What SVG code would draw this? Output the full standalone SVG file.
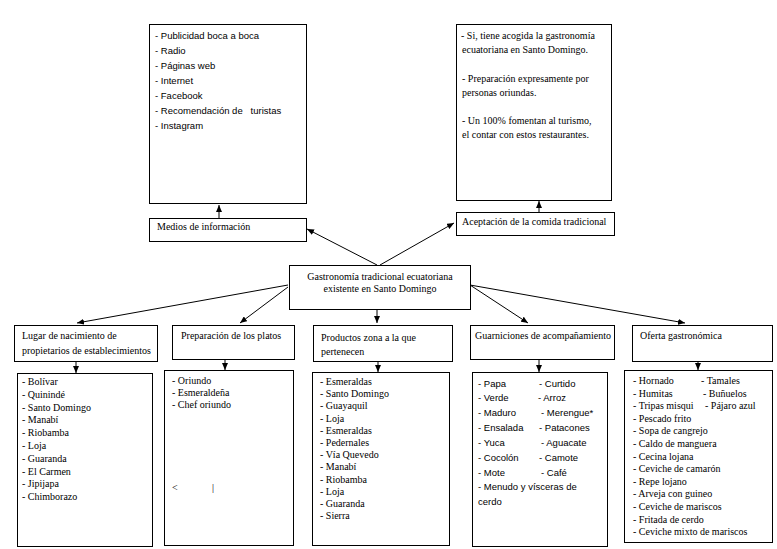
<svg xmlns="http://www.w3.org/2000/svg" width="777" height="549" viewBox="0 0 777 549">
<style>
.box{fill:#fff;stroke:#000;stroke-width:1}
.s{font-family:"Liberation Serif","Times New Roman",serif;font-size:10px;fill:#000}
.a{font-family:"Liberation Sans",Arial,sans-serif;font-size:9.5px;fill:#000}
.c{stroke:#000;stroke-width:1;fill:none;marker-end:url(#ah)}
</style>
<defs>
<marker id="ah" markerUnits="userSpaceOnUse" markerWidth="8" markerHeight="6" refX="7" refY="3" orient="auto">
<path d="M0,0 L7,3 L0,6 z" fill="#000"/>
</marker>
</defs>
<rect width="777" height="549" fill="#fff"/>

<g id="connectors">
<line class="c" x1="219" y1="218" x2="219" y2="205"/>
<line class="c" x1="539" y1="212" x2="539" y2="201"/>
<line class="c" x1="377" y1="265" x2="307" y2="229"/>
<line class="c" x1="380" y1="265" x2="454" y2="223"/>
<line class="c" x1="288" y1="285" x2="77" y2="323"/>
<line class="c" x1="288" y1="287" x2="240" y2="323"/>
<line class="c" x1="377" y1="310" x2="377" y2="323"/>
<line class="c" x1="470" y1="285" x2="528" y2="323"/>
<line class="c" x1="470" y1="285" x2="685" y2="323"/>
<line class="c" x1="76" y1="361" x2="76" y2="373"/>
<line class="c" x1="225" y1="359" x2="225" y2="370"/>
<line class="c" x1="378" y1="361" x2="378" y2="372"/>
<line class="c" x1="539" y1="359" x2="539" y2="372"/>
<line class="c" x1="698" y1="361" x2="698" y2="370"/>
</g>

<g id="medios-lista">
<rect class="box" x="149.5" y="24.5" width="157" height="179"/>
<text class="a" x="155" y="38.5">- Publicidad boca a boca</text>
<text class="a" x="155" y="53.5">- Radio</text>
<text class="a" x="155" y="68.5">- Páginas web</text>
<text class="a" x="155" y="83.5">- Internet</text>
<text class="a" x="155" y="98.5">- Facebook</text>
<text class="a" x="155" y="113.5">- Recomendación de&#160;&#160; turistas</text>
<text class="a" x="155" y="128.5">- Instagram</text>
</g>

<g id="medios">
<rect class="box" x="149.5" y="218.5" width="157" height="23"/>
<text class="s" x="157" y="230">Medios de información</text>
</g>

<g id="aceptacion-lista">
<rect class="box" x="456.5" y="24.5" width="155" height="176"/>
<text class="s" x="461" y="38.5">- Si, tiene acogida la gastronomía</text>
<text class="s" x="462" y="52.5">ecuatoriana en Santo Domingo.</text>
<text class="s" x="462" y="81.5">- Preparación expresamente por</text>
<text class="s" x="462" y="96">personas oriundas.</text>
<text class="s" x="462" y="123.5">- Un 100% fomentan al turismo,</text>
<text class="s" x="462" y="138">el contar con estos restaurantes.</text>
</g>

<g id="aceptacion">
<rect class="box" x="456.5" y="212.5" width="158" height="23"/>
<text class="s" x="462" y="225">Aceptación de la comida tradicional</text>
</g>

<g id="centro">
<rect class="box" x="289.5" y="265.5" width="181" height="44"/>
<text class="s" x="380" y="279.5" text-anchor="middle">Gastronomía tradicional ecuatoriana</text>
<text class="s" x="380" y="292" text-anchor="middle">existente en Santo Domingo</text>
</g>

<g id="lugar">
<rect class="box" x="14.5" y="325.5" width="143" height="36"/>
<text class="s" x="22" y="338.5">Lugar de nacimiento de</text>
<text class="s" x="22" y="353.5">propietarios de establecimientos</text>
</g>
<g id="lugar-lista">
<rect class="box" x="17.5" y="373.5" width="135" height="173"/>
<text class="s" x="22" y="385">- Bolívar</text>
<text class="s" x="22" y="397.8">- Quinindé</text>
<text class="s" x="22" y="410.6">- Santo Domingo</text>
<text class="s" x="22" y="423.4">- Manabí</text>
<text class="s" x="22" y="436.2">- Riobamba</text>
<text class="s" x="22" y="449">- Loja</text>
<text class="s" x="22" y="461.8">- Guaranda</text>
<text class="s" x="22" y="474.6">- El Carmen</text>
<text class="s" x="22" y="487.4">- Jipijapa</text>
<text class="s" x="22" y="500.2">- Chimborazo</text>
</g>

<g id="preparacion">
<rect class="box" x="172.5" y="325.5" width="122" height="34"/>
<text class="s" x="181" y="338.5">Preparación de los platos</text>
</g>
<g id="preparacion-lista">
<rect class="box" x="164.5" y="370.5" width="129" height="175"/>
<text class="s" x="172" y="384">- Oriundo</text>
<text class="s" x="172" y="396">- Esmeraldeña</text>
<text class="s" x="172" y="408">- Chef oriundo</text>
<text class="s" x="172" y="491">&lt;</text>
<text class="s" x="212" y="491">|</text>
</g>

<g id="productos">
<rect class="box" x="313.5" y="325.5" width="139" height="36"/>
<text class="s" x="321" y="341">Productos zona a la que</text>
<text class="s" x="321" y="355">pertenecen</text>
</g>
<g id="productos-lista">
<rect class="box" x="312.5" y="372.5" width="137" height="173"/>
<text class="s" x="320" y="385">- Esmeraldas</text>
<text class="s" x="320" y="397.2">- Santo Domingo</text>
<text class="s" x="320" y="409.4">- Guayaquil</text>
<text class="s" x="320" y="421.6">- Loja</text>
<text class="s" x="320" y="433.8">- Esmeraldas</text>
<text class="s" x="320" y="446">- Pedernales</text>
<text class="s" x="320" y="458.2">- Vía Quevedo</text>
<text class="s" x="320" y="470.4">- Manabí</text>
<text class="s" x="320" y="482.6">- Riobamba</text>
<text class="s" x="320" y="494.8">- Loja</text>
<text class="s" x="320" y="507">- Guaranda</text>
<text class="s" x="320" y="519.2">- Sierra</text>
</g>

<g id="guarniciones">
<rect class="box" x="470.5" y="325.5" width="144" height="34"/>
<text class="s" x="475" y="338.5">Guarniciones de acompañamiento</text>
</g>
<g id="guarniciones-lista">
<rect class="box" x="472.5" y="372.5" width="135" height="174"/>
<text class="a" x="478" y="386.5">- Papa</text>
<text class="a" x="478" y="401.3">- Verde</text>
<text class="a" x="478" y="416.2">- Maduro</text>
<text class="a" x="478" y="431">- Ensalada</text>
<text class="a" x="478" y="445.9">- Yuca</text>
<text class="a" x="478" y="460.7">- Cocolón</text>
<text class="a" x="478" y="475.6">- Mote</text>
<text class="a" x="478" y="490.4">- Menudo y vísceras de</text>
<text class="a" x="478" y="505.3">cerdo</text>
<text class="a" x="539" y="386.5">- Curtido</text>
<text class="a" x="538" y="401.3">- Arroz</text>
<text class="a" x="541" y="416.2">- Merengue*</text>
<text class="a" x="539" y="431">- Patacones</text>
<text class="a" x="541" y="445.9">- Aguacate</text>
<text class="a" x="539" y="460.7">- Camote</text>
<text class="a" x="541" y="475.6">- Café</text>
</g>

<g id="oferta">
<rect class="box" x="632.5" y="325.5" width="140" height="36"/>
<text class="s" x="640" y="338.5">Oferta gastronómica</text>
</g>
<g id="oferta-lista">
<rect class="box" x="624.5" y="370.5" width="148" height="172"/>
<text class="s" x="633" y="384">- Hornado</text>
<text class="s" x="633" y="396.6">- Humitas</text>
<text class="s" x="633" y="409.2">- Tripas misqui</text>
<text class="s" x="633" y="421.8">- Pescado frito</text>
<text class="s" x="633" y="434.4">- Sopa de cangrejo</text>
<text class="s" x="633" y="447">- Caldo de manguera</text>
<text class="s" x="633" y="459.6">- Cecina lojana</text>
<text class="s" x="633" y="472.2">- Ceviche de camarón</text>
<text class="s" x="633" y="484.8">- Repe lojano</text>
<text class="s" x="633" y="497.4">- Arveja con guineo</text>
<text class="s" x="633" y="510">- Ceviche de mariscos</text>
<text class="s" x="633" y="522.6">- Fritada de cerdo</text>
<text class="s" x="633" y="535.2">- Ceviche mixto de mariscos</text>
<text class="s" x="701" y="384">- Tamales</text>
<text class="s" x="703" y="396.6">- Buñuelos</text>
<text class="s" x="705" y="409.2">- Pájaro azul</text>
</g>
</svg>
